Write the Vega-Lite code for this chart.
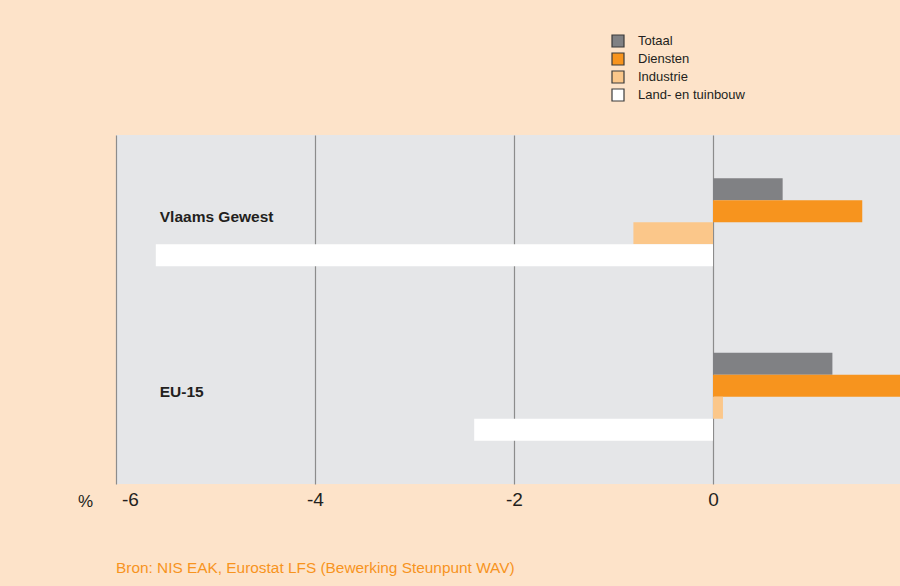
{
  "$schema": "https://vega.github.io/schema/vega-lite/v6.json",
  "width": 784,
  "height": 349,
  "autosize": {"type": "none"},
  "padding": {"left": 116, "top": 135, "right": 0, "bottom": 102},
  "background": "#FDE3C9",
  "config": {
    "view": {"fill": "#E5E6E8", "stroke": null},
    "font": "Liberation Sans"
  },
  "title": {
    "text": "Bron: NIS EAK, Eurostat LFS (Bewerking Steunpunt WAV)",
    "orient": "bottom",
    "anchor": "start",
    "frame": "group",
    "color": "#F7941E",
    "fontSize": 15.4,
    "fontWeight": "normal",
    "font": "Liberation Sans",
    "offset": 52
  },
  "layer": [
    {
      "data": {
        "values": [
          {"regio": "Vlaams Gewest", "reeks": "Totaal", "waarde": 0.7},
          {"regio": "Vlaams Gewest", "reeks": "Diensten", "waarde": 1.5},
          {"regio": "Vlaams Gewest", "reeks": "Industrie", "waarde": -0.8},
          {"regio": "Vlaams Gewest", "reeks": "Land- en tuinbouw", "waarde": -5.6},
          {"regio": "EU-15", "reeks": "Totaal", "waarde": 1.2},
          {"regio": "EU-15", "reeks": "Diensten", "waarde": 2.0},
          {"regio": "EU-15", "reeks": "Industrie", "waarde": 0.1},
          {"regio": "EU-15", "reeks": "Land- en tuinbouw", "waarde": -2.4}
        ]
      },
      "mark": {"type": "bar"},
      "encoding": {
        "x": {
          "field": "waarde",
          "type": "quantitative",
          "stack": null,
          "scale": {"domain": [-6, 2], "range": [0, 796], "nice": false, "zero": false},
          "axis": {
            "values": [-6, -4, -2, 0, 2],
            "labelExpr": "toString(datum.value)",
            "title": "%",
            "titleX": -31,
            "titleY": 17,
            "titleAlign": "center",
            "titleBaseline": "middle",
            "titleFont": "Liberation Sans",
            "titleFontSize": 17,
            "titleFontWeight": "normal",
            "titleColor": "#231F20",
            "grid": true,
            "gridColor": "#8C8C8C",
            "gridWidth": 1.2,
            "domain": false,
            "ticks": false,
            "labelFont": "Liberation Sans",
            "labelFontSize": 19,
            "labelColor": "#231F20",
            "labelPadding": 6,
            "labelFlush": false,
            "labelOverlap": false,
            "labelOffset": {"expr": "datum.value == -6 ? 14 : 0"}
          }
        },
        "y": {
          "field": "regio",
          "type": "nominal",
          "scale": {"domain": ["Vlaams Gewest", "EU-15"], "paddingInner": 0.4957, "paddingOuter": 0.2479},
          "axis": null
        },
        "yOffset": {
          "field": "reeks",
          "type": "nominal",
          "scale": {"domain": ["Totaal", "Diensten", "Industrie", "Land- en tuinbouw"], "paddingInner": 0, "paddingOuter": 0}
        },
        "color": {
          "field": "reeks",
          "type": "nominal",
          "scale": {
            "domain": ["Totaal", "Diensten", "Industrie", "Land- en tuinbouw"],
            "range": ["#808184", "#F7941E", "#FBC78A", "#FFFFFF"]
          },
          "legend": {
            "orient": "none",
            "legendX": 495,
            "legendY": -101,
            "title": null,
            "symbolType": "square",
            "symbolSize": 144,
            "symbolStrokeColor": "#3A3A3A",
            "symbolStrokeWidth": 1.2,
            "symbolOpacity": 1,
            "labelFontSize": 13,
            "labelFont": "Liberation Sans",
            "labelColor": "#231F20",
            "labelOffset": 13,
            "rowPadding": 0
          }
        }
      }
    },
    {
      "mark": {"type": "rule", "color": "#231F20", "strokeWidth": 2},
      "encoding": {"x": {"datum": 0}}
    },
    {
      "data": {"values": [{"regio": "Vlaams Gewest"}, {"regio": "EU-15"}]},
      "mark": {"type": "text", "align": "left", "baseline": "middle", "dy": -5, "fontSize": 15.5, "fontWeight": "bold", "color": "#231F20", "font": "Liberation Sans"},
      "encoding": {
        "x": {"datum": -5.56},
        "y": {"field": "regio", "type": "nominal"},
        "text": {"field": "regio", "type": "nominal"}
      }
    }
  ]
}
